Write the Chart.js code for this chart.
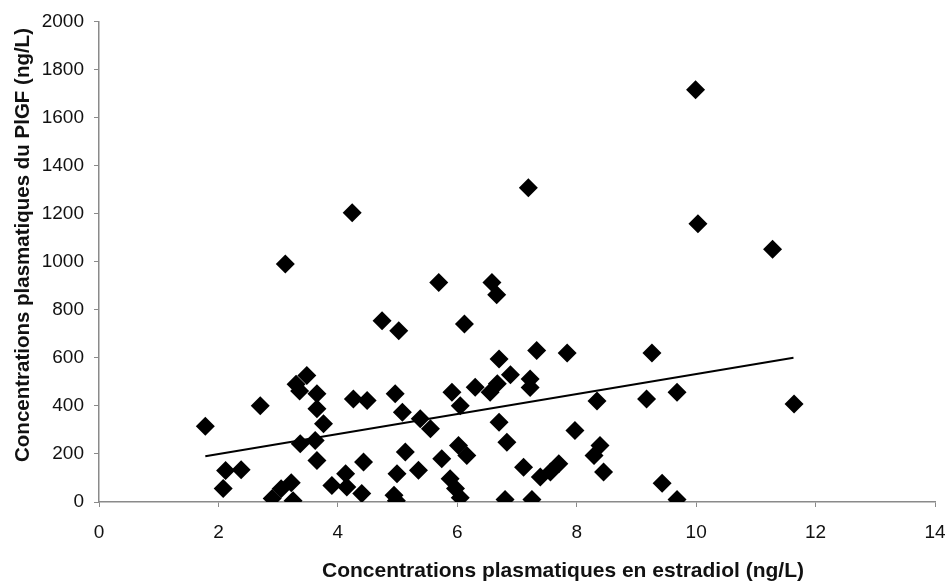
<!DOCTYPE html>
<html><head><meta charset="utf-8">
<script src="https://cdn.jsdelivr.net/npm/chart.js@4/dist/chart.umd.min.js"></script>
<style>html,body{margin:0;padding:0;background:#fff}</style>
</head><body>
<canvas id="c" width="945" height="584"></canvas>
<script>
// Estradiol (ng/L) for each patient
const estradiol = [
  1.78, 2.08, 2.12, 2.38, 2.70, 2.90, 3.05, 3.22, 3.25, 3.12,
  3.30, 3.36, 3.48, 3.65, 3.65, 3.76, 3.37, 3.62, 3.65, 4.26,
  4.49, 4.24, 4.74, 4.43, 4.13, 3.90, 4.15, 4.40, 4.96, 5.08,
  5.02, 5.38, 5.55, 5.91, 6.05, 6.30, 6.55, 5.13, 4.99, 5.35,
  6.02, 6.16, 5.74, 5.88, 5.97, 6.05, 4.94, 4.98, 5.69, 6.58,
  6.66, 6.12, 7.19, 6.70, 7.33, 7.84, 6.89, 6.67, 7.22, 7.22,
  8.34, 6.70, 6.83, 7.97, 8.39, 8.29, 8.45, 7.11, 7.39, 7.56,
  7.70, 6.80, 7.25, 9.26, 9.17, 9.68, 9.43, 9.68, 9.99, 10.03,
  11.28, 11.64
];
// PlGF (ng/L) for each patient
const plgf = [
  315, 56, 131, 134, 401, 15, 55, 80, 5, 990,
  490, 462, 526, 450, 388, 326, 242, 256, 173, 429,
  422, 1204, 754, 166, 118, 69, 62, 35, 450, 374,
  713, 346, 305, 457, 401, 478, 457, 208, 118, 132,
  235, 194, 180, 97, 56, 18, 28, 5, 913, 913,
  862, 741, 1308, 595, 630, 620, 530, 492, 512, 477,
  420, 332, 249, 298, 235, 194, 125, 145, 104, 125,
  159, 10, 10, 620, 429, 457, 78, 10, 1716, 1158,
  1052, 408
];
// Linear trend line end points
const trendX = [1.78, 11.63];
const trendY = [190, 600];

const xTitle = 'Concentrations plasmatiques en estradiol (ng/L)';
const yTitle = 'Concentrations plasmatiques du PlGF (ng/L)';

const points = estradiol.map((x, i) => ({x: x, y: plgf[i]}));
const trend = trendX.map((x, i) => ({x: x, y: trendY[i]}));

const FONT = '"Liberation Sans", Arial, sans-serif';

const titlePlugin = {
  id: 'titlePlugin',
  afterDraw(chart) {
    const ctx = chart.ctx;
    ctx.save();
    ctx.font = 'bold 21px ' + FONT;
    ctx.fillStyle = '#111';
    ctx.textAlign = 'center';
    ctx.textBaseline = 'middle';
    ctx.fillText(xTitle, 563, 571);
    ctx.translate(23, 245);
    ctx.rotate(-Math.PI / 2);
    ctx.font = 'bold 20.5px ' + FONT;
    ctx.fillText(yTitle, 0, 0);
    ctx.restore();
  }
};

new Chart(document.getElementById('c'), {
  type: 'scatter',
  data: {
    datasets: [
      {
        type: 'line',
        data: trend,
        borderColor: '#000',
        borderWidth: 2,
        pointRadius: 0,
        fill: false,
        order: 0
      },
      {
        data: points,
        pointStyle: 'rectRot',
        pointRadius: 9.5,
        pointHoverRadius: 9.5,
        backgroundColor: '#000',
        borderColor: '#000',
        borderWidth: 0,
        order: 1
      }
    ]
  },
  options: {
    responsive: false,
    animation: false,
    events: [],
    layout: {padding: {top: 8, right: 0, bottom: 0, left: 0}},
    plugins: {legend: {display: false}, tooltip: {enabled: false}},
    scales: {
      x: {
        type: 'linear',
        min: 0, max: 14,
        ticks: {stepSize: 2, color: '#111', font: {family: FONT, size: 19}, padding: 14,
                callback: (v) => String(v)},
        grid: {drawOnChartArea: false, drawTicks: true, tickLength: 5, color: '#8a8a8a'},
        border: {color: '#8a8a8a', width: 1.5},
        afterFit(scale) { scale.height = 82; scale.paddingRight = 10; }
      },
      y: {
        type: 'linear',
        min: 0, max: 2000,
        ticks: {stepSize: 200, color: '#111', font: {family: FONT, size: 19}, padding: 10,
                callback: (v) => String(v)},
        grid: {drawOnChartArea: false, drawTicks: true, tickLength: 5, color: '#8a8a8a'},
        border: {color: '#8a8a8a', width: 1.5},
        afterFit(scale) { scale.width = 99; }
      }
    }
  },
  plugins: [titlePlugin]
});
</script>
</body></html>
